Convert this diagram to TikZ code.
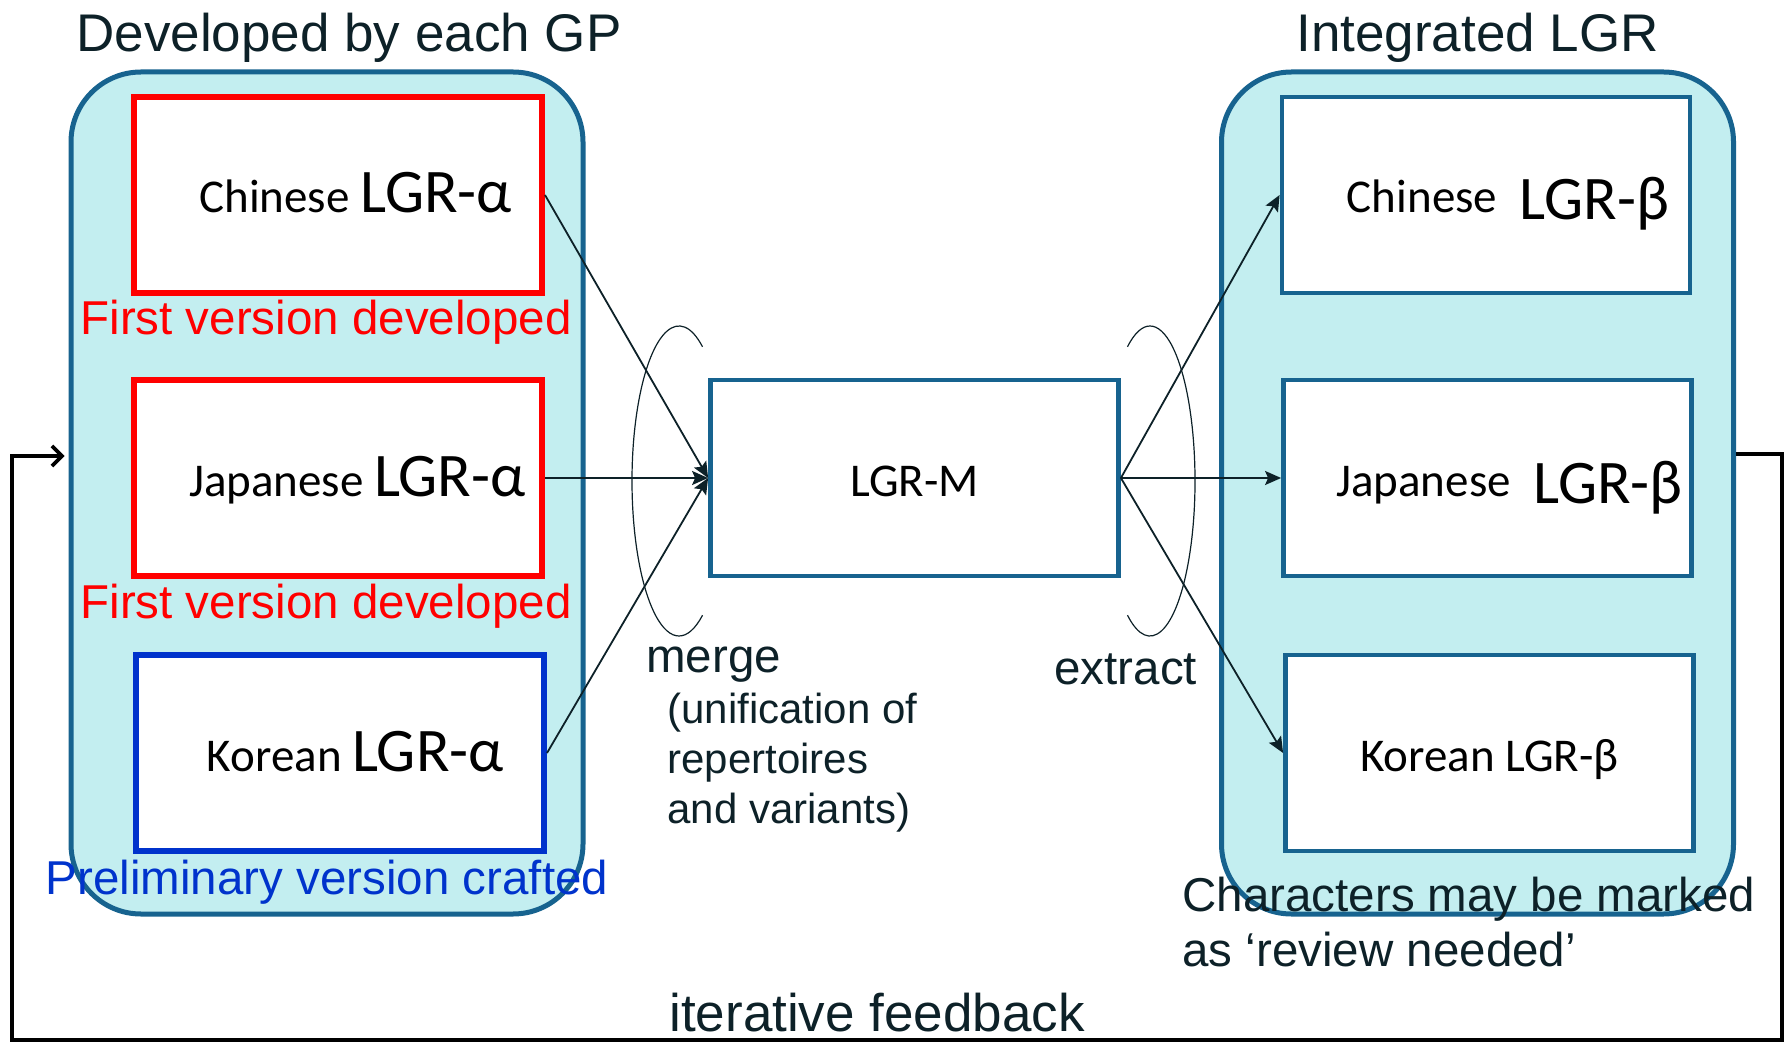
\documentclass[tikz,border=0pt]{standalone}
\usepackage{fontspec}
\setmainfont{Liberation Sans}
\newfontfamily\boxfont{Carlito}
\usetikzlibrary{positioning,arrows.meta}

\definecolor{groupline}{HTML}{17638F}
\definecolor{groupfill}{HTML}{C3EEF0}
\definecolor{devred}{HTML}{FF0000}
\definecolor{prelimblue}{HTML}{0033CC}
\definecolor{inktext}{HTML}{0D2128}

\newcommand{\bigLGR}[1]{{\fontsize{31pt}{36pt}\selectfont #1}}

\begin{document}
\begin{tikzpicture}[x=0.5pt,y=-0.5pt,>={Stealth[length=8pt,width=7pt,inset=1.5pt]},
  panel/.style={draw=groupline, fill=groupfill, line width=2.5pt, rounded corners=35pt, minimum width=256pt, minimum height=421pt},
  lgrbox/.style={draw=groupline, fill=white, line width=2.4pt, minimum width=204pt, minimum height=98pt, inner sep=0pt, text height=18pt, text depth=0pt, text=black, font=\boxfont\fontsize{23.5pt}{28pt}\selectfont},
  alphabox/.style={lgrbox, draw=devred, line width=3pt},
  title/.style={inner sep=0pt, text=inktext, font=\fontsize{26.5pt}{30pt}\selectfont},
  note/.style={inner sep=0pt, text=inktext, font=\fontsize{23.75pt}{27.5pt}\selectfont},
  subnote/.style={inner sep=0pt, text=inktext, align=left, font=\fontsize{21pt}{25pt}\selectfont},
  flow/.style={->, line width=0.9pt, draw=inktext},
  bracket/.style={line width=0.6pt, draw=inktext},
  feedback/.style={-{Straight Barb[length=5pt,width=10pt]}, line width=1.8pt, draw=black, shorten >=2pt}]
\useasboundingbox (0,0) rectangle (1792,1042);

% panels
\node (gpgroup) [panel] at (327,493) {};
\node (intgroup) [panel] at (1477.5,493) {};
\node (gptitle) [title, above=3.5pt of gpgroup, xshift=11pt] {Developed by each GP};
\node (inttitle) [title, above=3.5pt of intgroup] {Integrated LGR};

% LGR-alpha, one per GP
\node (chinA) [alphabox] at (338,195) {\hspace*{17.7pt}Chinese \bigLGR{LGR-α}};
\node (japA) [alphabox] at (338,478) {\hspace*{19.4pt}Japanese \bigLGR{LGR-α}};
\node (korA) [alphabox, draw=prelimblue] at (340,753) {\hspace*{15.4pt}Korean \bigLGR{LGR-α}};
\node (chinAnote) [note, text=devred, below=1.7pt of chinA, xshift=-6pt] {First version developed};
\node (japAnote) [note, text=devred, below=2.1pt of japA, xshift=-6pt] {First version developed};
\node (korAnote) [note, text=prelimblue, below=2.6pt of korA, xshift=-6.5pt] {Preliminary version crafted};

% merged LGR
\node (lgrm) [lgrbox] at (914.5,478) {LGR-M};

% LGR-beta, integrated
\node (chinB) [lgrbox] at (1486,195) {\hspace*{22pt}Chinese\hspace{6pt} \raisebox{-3.5pt}{\bigLGR{LGR-β}}};
\node (japB) [lgrbox] at (1487.5,478) {\hspace*{22pt}Japanese\hspace{6pt} \raisebox{-3.5pt}{\bigLGR{LGR-β}}};
\node (korB) [lgrbox] at (1489.5,753) {Korean LGR-β};
\node (marknote) [note, align=left, anchor=north west] at ([xshift=-50.5pt,yshift=-11.7pt]korB.south west) {Characters may be marked\\as ‘review needed’};

% merge and extract
\draw[flow] (chinA.east) -- (lgrm.west);
\draw[flow] (japA.east) -- (lgrm.west);
\draw[flow] (korA.east) -- (lgrm.west);
\draw[flow] (lgrm.east) -- (chinB.west);
\draw[flow] (lgrm.east) -- (japB.west);
\draw[flow] (lgrm.east) -- (korB.west);

\coordinate (mergec) at (679,481);
\coordinate (extractc) at (1150,481);
\draw[bracket] (mergec) ++(60:23.5pt and 77.5pt) arc[start angle=60, end angle=300, x radius=23.5pt, y radius=77.5pt];
\draw[bracket] (extractc) ++(-120:22.5pt and 77.5pt) arc[start angle=-120, end angle=120, x radius=22.5pt, y radius=77.5pt];
\node (merge) [note, anchor=base west] at (646,672) {merge};
\node (mergenote) [subnote, anchor=north west] at ([xshift=10.5pt,yshift=-5.3pt]merge.south west) {(unification of\\repertoires\\and variants)};
\node (extract) [note, anchor=base west] at (1054,684) {extract};

% feedback loop
\coordinate (fbcorner) at (12,1040);
\draw[feedback] ([yshift=19.5pt]intgroup.east) -- ++(46,0) |- (fbcorner) |- ([yshift=18.5pt]gpgroup.west);
\node (fbtext) [title, anchor=base west] at (669,1031) {iterative feedback};
\end{tikzpicture}
\end{document}
